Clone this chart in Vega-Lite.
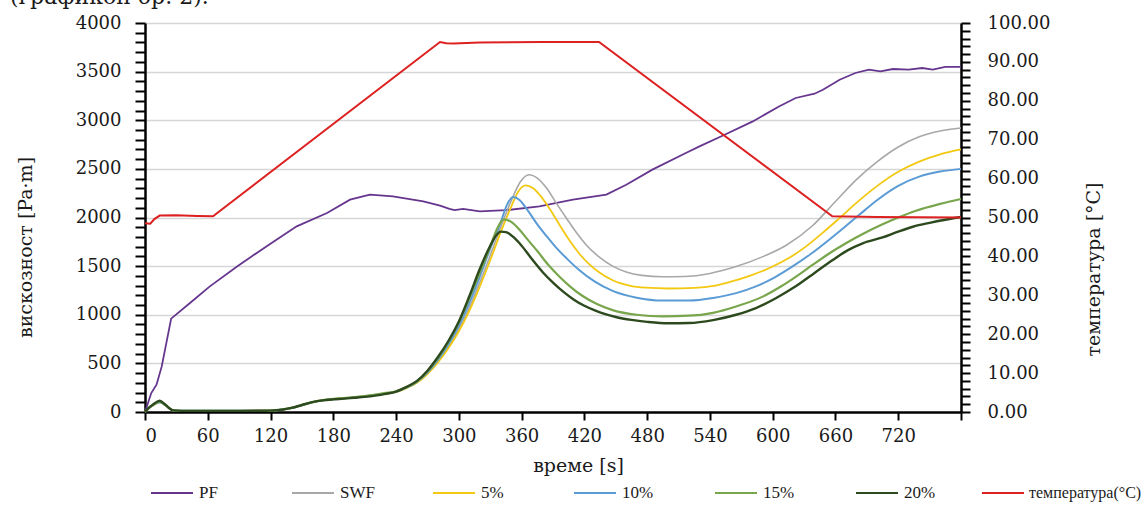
{
  "$schema": "https://vega.github.io/schema/vega-lite/v6.json",
  "width": 816,
  "height": 389,
  "autosize": {"type": "none"},
  "padding": {"left": 145, "top": 23, "right": 183, "bottom": 109},
  "background": "white",
  "title": {
    "text": "(графикон бр. 2).",
    "anchor": "start",
    "frame": "group",
    "dx": -135,
    "dy": 18,
    "offset": 6,
    "baseline": "alphabetic",
    "font": "DejaVu Serif",
    "fontSize": 22,
    "fontWeight": "normal",
    "color": "#1a1a1a"
  },
  "config": {
    "view": {"stroke": null},
    "font": "DejaVu Serif",
    "axis": {
      "domainColor": "black",
      "domainWidth": 2.5,
      "tickColor": "black",
      "tickWidth": 2,
      "labelFont": "DejaVu Serif",
      "labelFontSize": 18,
      "labelColor": "#1a1a1a",
      "titleFont": "DejaVu Serif",
      "titleFontSize": 19,
      "titleFontWeight": "normal",
      "titleColor": "#1a1a1a"
    }
  },
  "datasets": {
    "visc": [
      {"t": 0, "s": "PF", "v": 0}, {"t": 6, "s": "PF", "v": 195}, {"t": 11, "s": "PF", "v": 281}, {"t": 16, "s": "PF", "v": 469},
      {"t": 25, "s": "PF", "v": 960}, {"t": 43, "s": "PF", "v": 1121}, {"t": 62, "s": "PF", "v": 1292}, {"t": 88, "s": "PF", "v": 1497},
      {"t": 116, "s": "PF", "v": 1703}, {"t": 145, "s": "PF", "v": 1909}, {"t": 174, "s": "PF", "v": 2046}, {"t": 196, "s": "PF", "v": 2183},
      {"t": 215, "s": "PF", "v": 2235}, {"t": 237, "s": "PF", "v": 2217}, {"t": 266, "s": "PF", "v": 2166}, {"t": 282, "s": "PF", "v": 2121},
      {"t": 291, "s": "PF", "v": 2088}, {"t": 296, "s": "PF", "v": 2075}, {"t": 304, "s": "PF", "v": 2088}, {"t": 320, "s": "PF", "v": 2063},
      {"t": 345, "s": "PF", "v": 2075}, {"t": 377, "s": "PF", "v": 2114}, {"t": 409, "s": "PF", "v": 2183}, {"t": 441, "s": "PF", "v": 2235},
      {"t": 460, "s": "PF", "v": 2337}, {"t": 485, "s": "PF", "v": 2492}, {"t": 517, "s": "PF", "v": 2663}, {"t": 530, "s": "PF", "v": 2731},
      {"t": 552, "s": "PF", "v": 2841}, {"t": 581, "s": "PF", "v": 2988}, {"t": 606, "s": "PF", "v": 3142}, {"t": 622, "s": "PF", "v": 3229},
      {"t": 640, "s": "PF", "v": 3273}, {"t": 648, "s": "PF", "v": 3314}, {"t": 664, "s": "PF", "v": 3417}, {"t": 679, "s": "PF", "v": 3486},
      {"t": 692, "s": "PF", "v": 3520}, {"t": 703, "s": "PF", "v": 3502}, {"t": 715, "s": "PF", "v": 3527}, {"t": 730, "s": "PF", "v": 3520},
      {"t": 743, "s": "PF", "v": 3537}, {"t": 753, "s": "PF", "v": 3520}, {"t": 765, "s": "PF", "v": 3548}, {"t": 780, "s": "PF", "v": 3548}
    ],
    "gel": [
      {"t": 0, "s": "SWF", "v": 0}, {"t": 4, "s": "SWF", "v": 40}, {"t": 8, "s": "SWF", "v": 70}, {"t": 14, "s": "SWF", "v": 98},
      {"t": 19, "s": "SWF", "v": 72}, {"t": 23, "s": "SWF", "v": 38}, {"t": 27, "s": "SWF", "v": 15}, {"t": 35, "s": "SWF", "v": 12},
      {"t": 60, "s": "SWF", "v": 12}, {"t": 90, "s": "SWF", "v": 12}, {"t": 120, "s": "SWF", "v": 14}, {"t": 132, "s": "SWF", "v": 25},
      {"t": 140, "s": "SWF", "v": 40}, {"t": 150, "s": "SWF", "v": 70}, {"t": 160, "s": "SWF", "v": 100}, {"t": 170, "s": "SWF", "v": 120},
      {"t": 180, "s": "SWF", "v": 132}, {"t": 190, "s": "SWF", "v": 140}, {"t": 200, "s": "SWF", "v": 150}, {"t": 210, "s": "SWF", "v": 160},
      {"t": 220, "s": "SWF", "v": 175}, {"t": 230, "s": "SWF", "v": 190}, {"t": 240, "s": "SWF", "v": 208},
      {"t": 250, "s": "SWF", "v": 248}, {"t": 260, "s": "SWF", "v": 305}, {"t": 270, "s": "SWF", "v": 395}, {"t": 280, "s": "SWF", "v": 520},
      {"t": 290, "s": "SWF", "v": 670}, {"t": 300, "s": "SWF", "v": 850}, {"t": 310, "s": "SWF", "v": 1070}, {"t": 320, "s": "SWF", "v": 1330},
      {"t": 330, "s": "SWF", "v": 1610}, {"t": 340, "s": "SWF", "v": 1900}, {"t": 350, "s": "SWF", "v": 2170}, {"t": 359, "s": "SWF", "v": 2370},
      {"t": 367, "s": "SWF", "v": 2440}, {"t": 375, "s": "SWF", "v": 2405}, {"t": 384, "s": "SWF", "v": 2300}, {"t": 393, "s": "SWF", "v": 2150},
      {"t": 403, "s": "SWF", "v": 1990}, {"t": 412, "s": "SWF", "v": 1850}, {"t": 422, "s": "SWF", "v": 1715}, {"t": 434, "s": "SWF", "v": 1595},
      {"t": 447, "s": "SWF", "v": 1500}, {"t": 460, "s": "SWF", "v": 1440}, {"t": 475, "s": "SWF", "v": 1405}, {"t": 495, "s": "SWF", "v": 1390},
      {"t": 515, "s": "SWF", "v": 1393}, {"t": 540, "s": "SWF", "v": 1425}, {"t": 565, "s": "SWF", "v": 1495}, {"t": 590, "s": "SWF", "v": 1595},
      {"t": 613, "s": "SWF", "v": 1715}, {"t": 638, "s": "SWF", "v": 1915}, {"t": 660, "s": "SWF", "v": 2165}, {"t": 680, "s": "SWF", "v": 2390},
      {"t": 700, "s": "SWF", "v": 2575}, {"t": 720, "s": "SWF", "v": 2725}, {"t": 740, "s": "SWF", "v": 2830}, {"t": 760, "s": "SWF", "v": 2890},
      {"t": 780, "s": "SWF", "v": 2920},

      {"t": 0, "s": "5%", "v": 0}, {"t": 4, "s": "5%", "v": 40}, {"t": 8, "s": "5%", "v": 70}, {"t": 14, "s": "5%", "v": 98},
      {"t": 19, "s": "5%", "v": 72}, {"t": 23, "s": "5%", "v": 38}, {"t": 27, "s": "5%", "v": 15}, {"t": 35, "s": "5%", "v": 12},
      {"t": 60, "s": "5%", "v": 12}, {"t": 90, "s": "5%", "v": 12}, {"t": 120, "s": "5%", "v": 14}, {"t": 132, "s": "5%", "v": 25},
      {"t": 140, "s": "5%", "v": 40}, {"t": 150, "s": "5%", "v": 70}, {"t": 160, "s": "5%", "v": 100}, {"t": 170, "s": "5%", "v": 120},
      {"t": 180, "s": "5%", "v": 132}, {"t": 190, "s": "5%", "v": 140}, {"t": 200, "s": "5%", "v": 150}, {"t": 210, "s": "5%", "v": 160},
      {"t": 220, "s": "5%", "v": 175}, {"t": 230, "s": "5%", "v": 190}, {"t": 240, "s": "5%", "v": 205},
      {"t": 250, "s": "5%", "v": 245}, {"t": 260, "s": "5%", "v": 300}, {"t": 270, "s": "5%", "v": 390}, {"t": 280, "s": "5%", "v": 510},
      {"t": 290, "s": "5%", "v": 655}, {"t": 300, "s": "5%", "v": 830}, {"t": 310, "s": "5%", "v": 1040}, {"t": 320, "s": "5%", "v": 1290},
      {"t": 330, "s": "5%", "v": 1560}, {"t": 340, "s": "5%", "v": 1850}, {"t": 350, "s": "5%", "v": 2110}, {"t": 357, "s": "5%", "v": 2270},
      {"t": 364, "s": "5%", "v": 2330}, {"t": 371, "s": "5%", "v": 2300}, {"t": 379, "s": "5%", "v": 2210}, {"t": 388, "s": "5%", "v": 2070},
      {"t": 397, "s": "5%", "v": 1910}, {"t": 406, "s": "5%", "v": 1760}, {"t": 415, "s": "5%", "v": 1630}, {"t": 424, "s": "5%", "v": 1525},
      {"t": 433, "s": "5%", "v": 1445}, {"t": 447, "s": "5%", "v": 1355}, {"t": 463, "s": "5%", "v": 1300}, {"t": 479, "s": "5%", "v": 1278},
      {"t": 500, "s": "5%", "v": 1270}, {"t": 525, "s": "5%", "v": 1276}, {"t": 545, "s": "5%", "v": 1300}, {"t": 560, "s": "5%", "v": 1340},
      {"t": 578, "s": "5%", "v": 1400}, {"t": 597, "s": "5%", "v": 1481}, {"t": 615, "s": "5%", "v": 1580}, {"t": 632, "s": "5%", "v": 1703},
      {"t": 648, "s": "5%", "v": 1845}, {"t": 664, "s": "5%", "v": 1995}, {"t": 680, "s": "5%", "v": 2150}, {"t": 700, "s": "5%", "v": 2325},
      {"t": 720, "s": "5%", "v": 2470}, {"t": 740, "s": "5%", "v": 2575}, {"t": 760, "s": "5%", "v": 2650}, {"t": 780, "s": "5%", "v": 2700},

      {"t": 0, "s": "10%", "v": 0}, {"t": 4, "s": "10%", "v": 42}, {"t": 8, "s": "10%", "v": 72}, {"t": 14, "s": "10%", "v": 100},
      {"t": 19, "s": "10%", "v": 73}, {"t": 23, "s": "10%", "v": 39}, {"t": 27, "s": "10%", "v": 15}, {"t": 35, "s": "10%", "v": 12},
      {"t": 60, "s": "10%", "v": 12}, {"t": 90, "s": "10%", "v": 12}, {"t": 120, "s": "10%", "v": 14}, {"t": 132, "s": "10%", "v": 25},
      {"t": 140, "s": "10%", "v": 40}, {"t": 150, "s": "10%", "v": 70}, {"t": 160, "s": "10%", "v": 100}, {"t": 170, "s": "10%", "v": 120},
      {"t": 180, "s": "10%", "v": 132}, {"t": 190, "s": "10%", "v": 140}, {"t": 200, "s": "10%", "v": 150}, {"t": 210, "s": "10%", "v": 160},
      {"t": 220, "s": "10%", "v": 175}, {"t": 230, "s": "10%", "v": 190}, {"t": 240, "s": "10%", "v": 208},
      {"t": 250, "s": "10%", "v": 250}, {"t": 260, "s": "10%", "v": 310}, {"t": 270, "s": "10%", "v": 405}, {"t": 280, "s": "10%", "v": 535},
      {"t": 290, "s": "10%", "v": 695}, {"t": 300, "s": "10%", "v": 885}, {"t": 310, "s": "10%", "v": 1120}, {"t": 320, "s": "10%", "v": 1390},
      {"t": 330, "s": "10%", "v": 1680}, {"t": 340, "s": "10%", "v": 1950}, {"t": 346, "s": "10%", "v": 2130}, {"t": 352, "s": "10%", "v": 2210},
      {"t": 358, "s": "10%", "v": 2180}, {"t": 366, "s": "10%", "v": 2070}, {"t": 375, "s": "10%", "v": 1930}, {"t": 384, "s": "10%", "v": 1806},
      {"t": 393, "s": "10%", "v": 1690}, {"t": 403, "s": "10%", "v": 1580}, {"t": 415, "s": "10%", "v": 1460}, {"t": 430, "s": "10%", "v": 1340},
      {"t": 447, "s": "10%", "v": 1245}, {"t": 470, "s": "10%", "v": 1175}, {"t": 495, "s": "10%", "v": 1146}, {"t": 520, "s": "10%", "v": 1146},
      {"t": 543, "s": "10%", "v": 1172}, {"t": 565, "s": "10%", "v": 1222}, {"t": 584, "s": "10%", "v": 1292}, {"t": 602, "s": "10%", "v": 1385},
      {"t": 619, "s": "10%", "v": 1497}, {"t": 637, "s": "10%", "v": 1630}, {"t": 654, "s": "10%", "v": 1772}, {"t": 668, "s": "10%", "v": 1895},
      {"t": 683, "s": "10%", "v": 2030}, {"t": 700, "s": "10%", "v": 2180}, {"t": 720, "s": "10%", "v": 2325}, {"t": 740, "s": "10%", "v": 2420},
      {"t": 760, "s": "10%", "v": 2472}, {"t": 780, "s": "10%", "v": 2500},

      {"t": 0, "s": "15%", "v": 0}, {"t": 4, "s": "15%", "v": 45}, {"t": 8, "s": "15%", "v": 76}, {"t": 14, "s": "15%", "v": 108},
      {"t": 19, "s": "15%", "v": 76}, {"t": 23, "s": "15%", "v": 40}, {"t": 27, "s": "15%", "v": 16}, {"t": 35, "s": "15%", "v": 12},
      {"t": 60, "s": "15%", "v": 12}, {"t": 90, "s": "15%", "v": 12}, {"t": 120, "s": "15%", "v": 14}, {"t": 132, "s": "15%", "v": 26},
      {"t": 140, "s": "15%", "v": 42}, {"t": 150, "s": "15%", "v": 72}, {"t": 160, "s": "15%", "v": 102}, {"t": 170, "s": "15%", "v": 122},
      {"t": 180, "s": "15%", "v": 134}, {"t": 190, "s": "15%", "v": 143}, {"t": 200, "s": "15%", "v": 153}, {"t": 210, "s": "15%", "v": 164},
      {"t": 220, "s": "15%", "v": 180}, {"t": 230, "s": "15%", "v": 196}, {"t": 240, "s": "15%", "v": 214},
      {"t": 250, "s": "15%", "v": 255}, {"t": 260, "s": "15%", "v": 315}, {"t": 270, "s": "15%", "v": 420}, {"t": 280, "s": "15%", "v": 555},
      {"t": 290, "s": "15%", "v": 720}, {"t": 300, "s": "15%", "v": 920}, {"t": 310, "s": "15%", "v": 1170}, {"t": 320, "s": "15%", "v": 1430},
      {"t": 330, "s": "15%", "v": 1700}, {"t": 337, "s": "15%", "v": 1895}, {"t": 343, "s": "15%", "v": 1980}, {"t": 350, "s": "15%", "v": 1955},
      {"t": 358, "s": "15%", "v": 1875}, {"t": 366, "s": "15%", "v": 1770}, {"t": 375, "s": "15%", "v": 1655}, {"t": 385, "s": "15%", "v": 1520},
      {"t": 396, "s": "15%", "v": 1394}, {"t": 407, "s": "15%", "v": 1285}, {"t": 418, "s": "15%", "v": 1195}, {"t": 432, "s": "15%", "v": 1110},
      {"t": 447, "s": "15%", "v": 1048}, {"t": 470, "s": "15%", "v": 1000}, {"t": 495, "s": "15%", "v": 984}, {"t": 520, "s": "15%", "v": 990},
      {"t": 543, "s": "15%", "v": 1020}, {"t": 565, "s": "15%", "v": 1085}, {"t": 591, "s": "15%", "v": 1189}, {"t": 607, "s": "15%", "v": 1285},
      {"t": 622, "s": "15%", "v": 1390}, {"t": 638, "s": "15%", "v": 1512}, {"t": 654, "s": "15%", "v": 1630}, {"t": 670, "s": "15%", "v": 1735},
      {"t": 686, "s": "15%", "v": 1830}, {"t": 705, "s": "15%", "v": 1930}, {"t": 720, "s": "15%", "v": 2000}, {"t": 737, "s": "15%", "v": 2070},
      {"t": 760, "s": "15%", "v": 2140}, {"t": 780, "s": "15%", "v": 2190},

      {"t": 0, "s": "20%", "v": 0}, {"t": 4, "s": "20%", "v": 48}, {"t": 8, "s": "20%", "v": 80}, {"t": 14, "s": "20%", "v": 115},
      {"t": 19, "s": "20%", "v": 80}, {"t": 23, "s": "20%", "v": 42}, {"t": 27, "s": "20%", "v": 17}, {"t": 35, "s": "20%", "v": 12},
      {"t": 60, "s": "20%", "v": 12}, {"t": 90, "s": "20%", "v": 12}, {"t": 120, "s": "20%", "v": 14}, {"t": 132, "s": "20%", "v": 26},
      {"t": 140, "s": "20%", "v": 42}, {"t": 150, "s": "20%", "v": 72}, {"t": 160, "s": "20%", "v": 102}, {"t": 170, "s": "20%", "v": 120},
      {"t": 180, "s": "20%", "v": 130}, {"t": 190, "s": "20%", "v": 137}, {"t": 200, "s": "20%", "v": 146}, {"t": 210, "s": "20%", "v": 155},
      {"t": 220, "s": "20%", "v": 168}, {"t": 230, "s": "20%", "v": 186}, {"t": 240, "s": "20%", "v": 210},
      {"t": 250, "s": "20%", "v": 258}, {"t": 260, "s": "20%", "v": 320}, {"t": 270, "s": "20%", "v": 425}, {"t": 280, "s": "20%", "v": 565},
      {"t": 290, "s": "20%", "v": 730}, {"t": 300, "s": "20%", "v": 930}, {"t": 310, "s": "20%", "v": 1190}, {"t": 320, "s": "20%", "v": 1470},
      {"t": 330, "s": "20%", "v": 1710}, {"t": 336, "s": "20%", "v": 1820}, {"t": 340, "s": "20%", "v": 1855}, {"t": 345, "s": "20%", "v": 1850},
      {"t": 352, "s": "20%", "v": 1800}, {"t": 360, "s": "20%", "v": 1710}, {"t": 370, "s": "20%", "v": 1570}, {"t": 380, "s": "20%", "v": 1440},
      {"t": 390, "s": "20%", "v": 1330}, {"t": 400, "s": "20%", "v": 1235}, {"t": 410, "s": "20%", "v": 1155}, {"t": 420, "s": "20%", "v": 1092},
      {"t": 430, "s": "20%", "v": 1045}, {"t": 440, "s": "20%", "v": 1007}, {"t": 450, "s": "20%", "v": 977}, {"t": 465, "s": "20%", "v": 947},
      {"t": 480, "s": "20%", "v": 927}, {"t": 500, "s": "20%", "v": 912}, {"t": 520, "s": "20%", "v": 915}, {"t": 543, "s": "20%", "v": 945},
      {"t": 565, "s": "20%", "v": 1000}, {"t": 584, "s": "20%", "v": 1069}, {"t": 603, "s": "20%", "v": 1170}, {"t": 622, "s": "20%", "v": 1292},
      {"t": 640, "s": "20%", "v": 1430}, {"t": 657, "s": "20%", "v": 1560}, {"t": 672, "s": "20%", "v": 1665}, {"t": 686, "s": "20%", "v": 1735},
      {"t": 705, "s": "20%", "v": 1795}, {"t": 720, "s": "20%", "v": 1855}, {"t": 734, "s": "20%", "v": 1905}, {"t": 750, "s": "20%", "v": 1945},
      {"t": 765, "s": "20%", "v": 1977}, {"t": 780, "s": "20%", "v": 2005}
    ],
    "temp": [
      {"t": 0, "c": 48.5}, {"t": 5, "c": 48.4}, {"t": 9, "c": 49.6}, {"t": 14, "c": 50.5}, {"t": 30, "c": 50.6},
      {"t": 50, "c": 50.4}, {"t": 65, "c": 50.3}, {"t": 282, "c": 95.1}, {"t": 288, "c": 94.8}, {"t": 295, "c": 94.7},
      {"t": 320, "c": 95.0}, {"t": 380, "c": 95.1}, {"t": 434, "c": 95.1}, {"t": 657, "c": 50.3}, {"t": 700, "c": 50.1},
      {"t": 780, "c": 50.0}
    ]
  },
  "encoding": {
    "x": {
      "field": "t",
      "type": "quantitative",
      "scale": {"domain": [0, 780], "nice": false, "zero": false},
      "axis": {
        "values": [0, 60, 120, 180, 240, 300, 360, 420, 480, 540, 600, 660, 720, 780],
        "labelExpr": "datum.value > 720 ? '' : datum.label",
        "format": "d",
        "grid": false,
        "tickSize": 8,
        "labelPadding": 7,
        "title": "време [s]",
        "titleX": 433,
        "titleY": 44,
        "titleAlign": "center",
        "titleBaseline": "top"
      }
    }
  },
  "layer": [
    {
      "encoding": {
        "y": {
          "field": "v",
          "type": "quantitative",
          "scale": {"domain": [0, 4000], "nice": false},
          "axis": {
            "orient": "left",
            "values": [0, 100, 200, 300, 400, 500, 600, 700, 800, 900, 1000, 1100, 1200, 1300, 1400, 1500, 1600, 1700, 1800, 1900, 2000, 2100, 2200, 2300, 2400, 2500, 2600, 2700, 2800, 2900, 3000, 3100, 3200, 3300, 3400, 3500, 3600, 3700, 3800, 3900, 4000],
            "labelExpr": "datum.value % 500 === 0 ? datum.label : ''",
            "format": "d",
            "grid": true,
            "gridColor": "#d6d6d6",
            "gridWidth": 1.5,
            "gridOpacity": {"condition": {"test": "datum.value % 500 === 0 && datum.value > 0", "value": 1}, "value": 0},
            "tickSize": 10,
            "labelPadding": 14,
            "title": "вискозност [Pa·m]",
            "titleAngle": -90,
            "titleX": -120,
            "titleY": 224,
            "titleAlign": "center",
            "titleBaseline": "middle"
          }
        },
        "color": {
          "field": "s",
          "type": "nominal",
          "scale": {
            "domain": ["PF", "SWF", "5%", "10%", "15%", "20%"],
            "range": ["#66368f", "#a8a8a8", "#f2c811", "#5b9bd5", "#79a64c", "#2d4a1e"]
          },
          "legend": {
            "orient": "none",
            "legendX": 5,
            "legendY": 448,
            "direction": "horizontal",
            "title": null,
            "symbolType": "stroke",
            "symbolSize": 1764,
            "symbolStrokeWidth": 2,
            "labelFont": "Liberation Serif",
            "labelFontSize": 17,
            "labelColor": "#1a1a1a",
            "labelOffset": 5,
            "gridAlign": "all",
            "columnPadding": 54,
            "padding": 0
          }
        }
      },
      "layer": [
        {
          "data": {"name": "visc"},
          "mark": {"type": "line", "strokeWidth": 1.8, "interpolate": "linear"}
        },
        {
          "data": {"name": "gel"},
          "mark": {"type": "line", "interpolate": "monotone"},
          "encoding": {
            "strokeWidth": {
              "field": "s",
              "type": "nominal",
              "scale": {"domain": ["SWF", "5%", "10%", "15%", "20%"], "range": [1.6, 2.4, 1.6, 1.6, 1.8]},
              "legend": null
            }
          }
        }
      ]
    },
    {
      "data": {"name": "temp"},
      "mark": {"type": "line", "strokeWidth": 2, "interpolate": "linear"},
      "encoding": {
        "y": {
          "field": "c",
          "type": "quantitative",
          "scale": {"domain": [0, 100], "nice": false},
          "axis": {
            "orient": "right",
            "values": [0, 2, 4, 6, 8, 10, 12, 14, 16, 18, 20, 22, 24, 26, 28, 30, 32, 34, 36, 38, 40, 42, 44, 46, 48, 50, 52, 54, 56, 58, 60, 62, 64, 66, 68, 70, 72, 74, 76, 78, 80, 82, 84, 86, 88, 90, 92, 94, 96, 98, 100],
            "labelExpr": "datum.value % 10 === 0 ? datum.label : ''",
            "format": ".2f",
            "grid": false,
            "tickSize": 9,
            "labelPadding": 17,
            "title": "температура [°C]",
            "titleAngle": -90,
            "titleX": 132,
            "titleY": 246,
            "titleAlign": "center",
            "titleBaseline": "middle"
          }
        },
        "stroke": {
          "datum": "температура(°C)",
          "type": "nominal",
          "scale": {"domain": ["температура(°C)"], "range": ["#dd2020"]},
          "legend": {
            "orient": "none",
            "legendX": 836,
            "legendY": 448,
            "direction": "horizontal",
            "title": null,
            "symbolType": "stroke",
            "symbolSize": 1764,
            "symbolStrokeWidth": 2,
            "labelFont": "Liberation Serif",
            "labelFontSize": 16,
            "labelColor": "#1a1a1a",
            "labelOffset": 4,
            "padding": 0
          }
        }
      }
    }
  ],
  "resolve": {"scale": {"y": "independent"}}
}
